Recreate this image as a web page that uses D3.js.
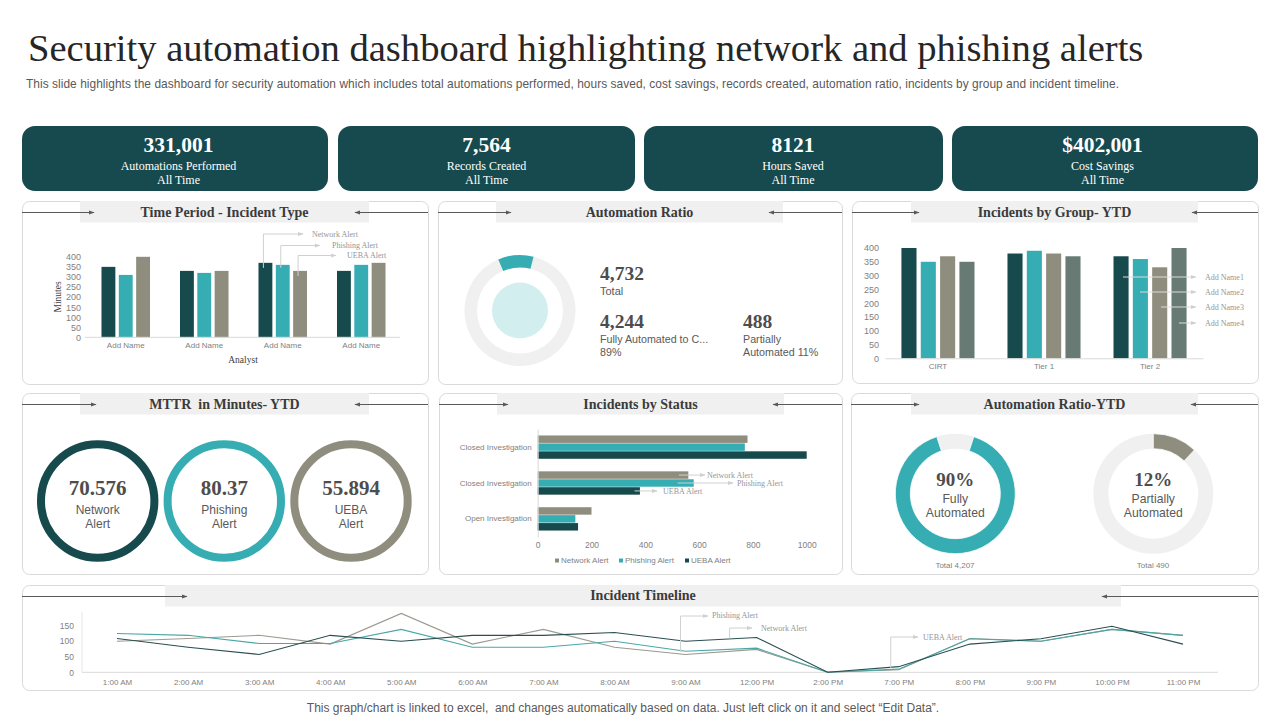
<!DOCTYPE html>
<html><head><meta charset="utf-8">
<script src="https://cdn.jsdelivr.net/npm/d3@7"></script>
<style>html,body{margin:0;padding:0;background:#fff;overflow:hidden}svg{display:block}text{white-space:pre}</style>
</head><body><svg id="c" width="1280" height="720"></svg>
<script>
const kpiValues=["331,001","7,564","8121","$402,001"];
const kpiLabels=["Automations Performed","Records Created","Hours Saved","Cost Savings"];
const analysts=["Add Name A","Add Name B","Add Name C","Add Name D"];
const alertTypes=["Network Alert","Phishing Alert","UEBA Alert"];
const incidentNetwork=[350,330,370,330];
const incidentPhishing=[310,320,360,360];
const incidentUeba=[400,330,330,370];
const groups=["CIRT","Tier 1","Tier 2"];
const groupNames=["Add Name1","Add Name2","Add Name3","Add Name4"];
const groupName1=[400,380,370];
const groupName2=[350,390,360];
const groupName3=[370,380,330];
const groupName4=[350,370,400];
const statusCats=["Closed Investigation","Closed Investigation","Open Investigation"];
const statusNetwork=[780,560,200];
const statusPhishing=[770,580,140];
const statusUeba=[1000,380,150];
const hours=["1:00 AM","2:00 AM","3:00 AM","4:00 AM","5:00 AM","6:00 AM","7:00 AM","8:00 AM","9:00 AM","12:00 PM","2:00 PM","7:00 PM","8:00 PM","9:00 PM","10:00 PM","11:00 PM"];
const timelinePhishing=[124,118,92,92,137,80,80,99,67,77,0,10,107,99,137,118];
const timelineNetwork=[99,108,118,90,188,90,137,80,57,73,0,8,108,99,137,118];
const timelineUeba=[108,80,57,118,99,118,118,127,99,111,0,18,90,107,147,90];
const mttrValues=["70.576","80.37","55.894"];
const mttrLabels=[["Network","Alert"],["Phishing","Alert"],["UEBA","Alert"]];
const ratioTotal=4732, ratioFully=4244, ratioPartial=488;
const ytdFully=90, ytdPartial=12;

const DARK="#174a4c",TEAL="#35adb3",GRAY="#8f8e7e",SLATE="#687a74",BAND="#f0f0f0",EDGE="#d9d9d9",TXT="#404040",AXT="#7f7f7f";
const SERIF="'Liberation Serif',serif",SANS="'Liberation Sans',sans-serif";
const svg=d3.select("#c");
const defs=svg.append("defs");
function mk(id,col){defs.append("marker").attr("id",id).attr("viewBox","0 0 10 10").attr("refX",9).attr("refY",5)
 .attr("markerWidth",6).attr("markerHeight",6).attr("markerUnits","userSpaceOnUse").attr("orient","auto")
 .append("path").attr("d","M0,1.5L10,5L0,8.5Z").attr("fill",col);}
mk("ad","#595959");mk("al","#d0d0d0");

function text(g,x,y,s,o={}){
 const dy=(o.f===SERIF&&(o.s||10)>16)?2:1;
 return g.append("text").attr("x",x).attr("y",y+dy).text(s)
 .attr("font-family",o.f||SANS).attr("font-size",o.s||10).attr("font-weight",o.w||"normal")
 .attr("fill",o.c||TXT).attr("text-anchor",o.a||"middle").attr("dominant-baseline",o.b||"middle");}

text(svg,28,50,"Security automation dashboard highlighting network and phishing alerts",{f:SERIF,s:38.6,a:"start",c:"#262626"});
text(svg,26,84,"This slide highlights the dashboard for security automation which includes total automations performed, hours saved, cost savings, records created, automation ratio, incidents by group and incident timeline.",{s:11.9,a:"start",c:"#595959"}).attr("textLength",1093).attr("lengthAdjust","spacing");
text(svg,623,708,"This graph/chart is linked to excel,  and changes automatically based on data. Just left click on it and select “Edit Data”.",{s:12,c:"#595959"});

const kpiBoxes=[[22,328],[338,635],[644,943],[952,1258]];
const kpiCenters=[178.5,486.5,793,1102.5];
kpiBoxes.forEach((b,i)=>{
 svg.append("rect").attr("x",b[0]).attr("y",126).attr("width",b[1]-b[0]).attr("height",65).attr("rx",13).attr("fill","#164a4e");
 const cx=kpiCenters[i];
 text(svg,cx,145,kpiValues[i],{f:SERIF,s:21.5,w:"bold",c:"#fff"});
 text(svg,cx,166,kpiLabels[i],{f:SERIF,s:12,c:"#fff"});
 text(svg,cx,180,"All Time",{f:SERIF,s:12,c:"#fff"});
});

function panel(x0,x1,y0,y1,bx0,bx1,ax0,ax1,title,tdy=0){
 const g=svg.append("g");
 g.append("rect").attr("x",x0+.5).attr("y",y0+.5).attr("width",x1-x0).attr("height",y1-y0).attr("rx",7).attr("fill","#fff").attr("stroke",EDGE);
 g.append("rect").attr("x",bx0).attr("y",y0).attr("width",bx1-bx0).attr("height",21.5).attr("fill",BAND);
 const ym=y0+11;
 g.append("line").attr("x1",x0).attr("x2",ax0).attr("y1",ym+.5).attr("y2",ym+.5).attr("stroke","#595959").attr("marker-end","url(#ad)");
 g.append("line").attr("x1",x1).attr("x2",ax1).attr("y1",ym+.5).attr("y2",ym+.5).attr("stroke","#595959").attr("marker-end","url(#ad)");
 text(g,(bx0+bx1)/2,ym+.5+tdy,title,{f:SERIF,s:14,w:"bold",c:"#3b3b3b"});
 return g;
}
const p1=panel(22,428,201,384,80,369,94,355,"Time Period - Incident Type");
const p2=panel(438,842,201,384,496,783,511,769,"Automation Ratio");
const p3=panel(852,1258,201,383,911,1198,919,1192,"Incidents by Group- YTD");
const p4=panel(22,428,393,574,80,369,96,355,"MTTR  in Minutes- YTD");
const p5=panel(439,842,393,574,497,784,508,773,"Incidents by Status");
const p6=panel(851,1258,393,574,911,1198,919,1191,"Automation Ratio-YTD");
const p7=panel(22,1258,585,690,165,1121,187,1102,"Incident Timeline",-1);

function styleAxis(a,size,col){a.select(".domain").attr("stroke","#d9d9d9");a.selectAll(".tick line").remove();
 a.selectAll("text").attr("font-family",SANS).attr("font-size",size).attr("fill",col||AXT);}
function callout(g,pts,label,tx,ty,col){
 g.append("path").attr("d",d3.line()(pts)).attr("fill","none").attr("stroke",col||"#d0d0d0").attr("stroke-width",1).attr("marker-end","url(#al)");
 text(g,tx,ty,label,{f:SERIF,s:8,a:"start",c:"#969696"});
}

// Chart 1
{
 const g=p1,x=d3.scaleBand().domain(analysts).range([86.5,400.5]).paddingInner(.382).paddingOuter(.191);
 const y=d3.scaleLinear().domain([0,400]).range([337.3,256.8]);
 const s=[incidentNetwork,incidentPhishing,incidentUeba],cols=[DARK,TEAL,GRAY];
 const ix=d3.scaleBand().domain([0,1,2]).range([0,x.bandwidth()]).paddingInner(.2);
 analysts.forEach((a,i)=>s.forEach((v,k)=>{g.append("rect").attr("x",x(a)+ix(k)).attr("width",ix.bandwidth()).attr("y",y(v[i])).attr("height",y(0)-y(v[i])).attr("fill",cols[k]);}));
 const ax=g.append("g").attr("transform","translate(0,337.3)").call(d3.axisBottom(x).tickSize(0).tickPadding(5.5).tickFormat(()=>"Add Name"));styleAxis(ax,8);
 ax.select(".domain").attr("d","M85,0H400");
 const ay=g.append("g").attr("transform","translate(85,0)").call(d3.axisLeft(y).ticks(8).tickSize(0).tickPadding(4));styleAxis(ay,9);
 ay.select(".domain").remove();
 text(g,243,360,"Analyst",{f:SERIF,s:9.5,c:"#404040"});
 text(g,0,0,"Minutes",{f:SERIF,s:9.5,c:"#404040"}).attr("transform","translate(58,297) rotate(-90)");
 const a2=analysts[2],bx=k=>x(a2)+ix(k)+ix.bandwidth()/2;
 callout(g,[[bx(0)-2,y(345)],[bx(0)-2,234],[303,234]],alertTypes[0],312,234);
 callout(g,[[bx(1)-2,y(345)],[bx(1)-2,245.5],[320,245.5]],alertTypes[1],332,245);
 callout(g,[[bx(2)-2,y(305)],[bx(2)-2,255.5],[336,255.5]],alertTypes[2],347,255);
}
// Automation ratio donut
{
 const g=p2.append("g").attr("transform","translate(520,310.5)");
 g.append("path").attr("d",d3.arc()({innerRadius:43,outerRadius:55.5,startAngle:0,endAngle:2*Math.PI})).attr("fill",BAND);
 g.append("circle").attr("r",28).attr("fill","#d3eeef");
 const partialFrac=ratioPartial/ratioTotal;
 const start=-23*Math.PI/180;
 g.append("path").attr("d",d3.arc()({innerRadius:43,outerRadius:55.5,startAngle:start,endAngle:start+partialFrac*2*Math.PI})).attr("fill",TEAL);
 const f=d3.format(",");
 text(p2,600,274,f(ratioTotal),{f:SERIF,s:19.5,w:"bold",a:"start",c:"#4d4d4d"});
 text(p2,600,291.5,"Total",{s:11,a:"start",c:"#595959"});
 text(p2,600,322,f(ratioFully),{f:SERIF,s:19.5,w:"bold",a:"start",c:"#4d4d4d"});
 text(p2,600,339,"Fully Automated to C...",{s:10.7,a:"start",c:"#595959"});
 text(p2,600,352,"89%",{s:10.7,a:"start",c:"#595959"});
 text(p2,743,322,f(ratioPartial),{f:SERIF,s:19.5,w:"bold",a:"start",c:"#4d4d4d"});
 text(p2,743,339,"Partially",{s:10.7,a:"start",c:"#595959"});
 text(p2,743,352,"Automated 11%",{s:10.7,a:"start",c:"#595959"});
}
// Chart 3
{
 const g=p3,x=d3.scaleBand().domain(groups).range([885,1203]).paddingInner(.311).paddingOuter(.155);
 const y=d3.scaleLinear().domain([0,400]).range([358.3,248]);
 const s=[groupName1,groupName2,groupName3,groupName4],cols=[DARK,TEAL,GRAY,SLATE];
 const ix=d3.scaleBand().domain([0,1,2,3]).range([0,x.bandwidth()]).paddingInner(.22);
 groups.forEach((a,i)=>s.forEach((v,k)=>{g.append("rect").attr("x",x(a)+ix(k)).attr("width",ix.bandwidth()).attr("y",y(v[i])).attr("height",y(0)-y(v[i])).attr("fill",cols[k]);}));
 const ax=g.append("g").attr("transform","translate(0,358.3)").call(d3.axisBottom(x).tickSize(0).tickPadding(5.5));styleAxis(ax,8);
 const ay=g.append("g").attr("transform","translate(883,0)").call(d3.axisLeft(y).ticks(8).tickSize(0).tickPadding(4));styleAxis(ay,9);
 ay.select(".domain").remove();
 const ys=[277,292,307,323],starts=[1123,1140,1161,1179];
 groupNames.forEach((n,i)=>{
  g.append("line").attr("x1",starts[i]).attr("x2",1196).attr("y1",ys[i]).attr("y2",ys[i]).attr("stroke","#dcdcdc").attr("marker-end","url(#al)");
  text(g,1205,ys[i],n,{f:SERIF,s:8,a:"start",c:"#969696"});
 });
}
// MTTR
{
 const cx=[97.7,224.3,351],cols=[DARK,TEAL,GRAY];
 cx.forEach((c,i)=>{
  p4.append("circle").attr("cx",c).attr("cy",501).attr("r",56.7).attr("fill","none").attr("stroke",cols[i]).attr("stroke-width",8);
  text(p4,c,488,mttrValues[i],{f:SERIF,s:21,w:"bold",c:"#4d4d4d"});
  text(p4,c,509.5,mttrLabels[i][0],{s:12,c:"#595959"});
  text(p4,c,523.5,mttrLabels[i][1],{s:12,c:"#595959"});
 });
}
// Status
{
 const g=p5,x=d3.scaleLinear().domain([0,1000]).range([537.7,806.7]);
 const idx=statusCats.map((d,i)=>i);
 const y=d3.scaleBand().domain(idx).range([429,537]).paddingInner(.35).paddingOuter(.18);
 const s=[statusNetwork,statusPhishing,statusUeba],cols=[GRAY,TEAL,DARK];
 const iy=d3.scaleBand().domain([0,1,2]).range([0,y.bandwidth()]).paddingInner(.06);
 idx.forEach(i=>s.forEach((v,k)=>{g.append("rect").attr("x",x(0)).attr("y",y(i)+iy(k)).attr("height",iy.bandwidth()).attr("width",x(v[i])-x(0)).attr("fill",cols[k]);}));
 const ax=g.append("g").attr("transform","translate(0,539)").call(d3.axisBottom(x).ticks(5).tickFormat(d3.format("d")).tickSize(0).tickPadding(3));styleAxis(ax,8.5);ax.select(".domain").remove();
 const ay=g.append("g").attr("transform","translate(537.7,0)").call(d3.axisLeft(y).tickSize(0).tickPadding(6).tickFormat(i=>statusCats[i]));styleAxis(ay,8);
 const my=k=>y(1)+iy(k)+iy.bandwidth()/2;
 callout(g,[[x(525),my(0)],[705,my(0)]],alertTypes[0],707,475.5);
 callout(g,[[x(520),my(1)],[733,my(1)]],alertTypes[1],737,483);
 callout(g,[[x(360),my(2)],[657,my(2)]],alertTypes[2],663,491);
 const lx=[555,619,685];
 alertTypes.forEach((t,i)=>{
  g.append("rect").attr("x",lx[i]).attr("y",558.5).attr("width",4).attr("height",4).attr("fill",cols[i]);
  text(g,lx[i]+6,560,t,{s:8,a:"start",c:AXT});
 });
}
// YTD donuts
{
 const arc=d3.arc().innerRadius(45).outerRadius(60);
 const draw=(cx,cy,pct,col,sa)=>{
  const g=p6.append("g").attr("transform",`translate(${cx},${cy})`);
  g.append("path").attr("d",arc({startAngle:0,endAngle:2*Math.PI})).attr("fill",BAND);
  g.append("path").attr("d",arc({startAngle:sa,endAngle:sa+pct/100*2*Math.PI})).attr("fill",col).attr("stroke","#fff").attr("stroke-width",.8);
 };
 draw(955.3,493.7,ytdFully,TEAL,18*Math.PI/180);
 draw(1153.3,493.7,ytdPartial,GRAY,0);
 text(p6,955.3,480,ytdFully+"%",{f:SERIF,s:19,w:"bold",c:"#4d4d4d"});
 text(p6,955.3,498.5,"Fully",{s:12.2,c:"#595959"});
 text(p6,955.3,512.5,"Automated",{s:12.2,c:"#595959"});
 text(p6,1153.3,480,ytdPartial+"%",{f:SERIF,s:19,w:"bold",c:"#4d4d4d"});
 text(p6,1153.3,498.5,"Partially",{s:12.2,c:"#595959"});
 text(p6,1153.3,512.5,"Automated",{s:12.2,c:"#595959"});
 text(p6,955,564.5,"Total 4,207",{s:8,c:AXT});
 text(p6,1153,564.5,"Total 490",{s:8,c:AXT});
}
// Timeline
{
 const g=p7,x=d3.scalePoint().domain(hours).range([117,1183]);
 const y=d3.scaleLinear().domain([0,150]).range([672.3,625.3]);
 const ax=g.append("g").attr("transform","translate(0,672.3)").call(d3.axisBottom(x).tickSize(0).tickPadding(7));styleAxis(ax,8);
 ax.select(".domain").attr("d","M82,0H1218");
 const ay=g.append("g").attr("transform","translate(82,0)").call(d3.axisLeft(y).tickValues([0,50,100,150]).tickSize(0).tickPadding(8));styleAxis(ay,8.5);
 ay.select(".domain").remove();
 g.append("line").attr("x1",82).attr("x2",82).attr("y1",612).attr("y2",672).attr("stroke","#e6e6e6");
 const line=d3.line().x((d,i)=>x(hours[i])).y(d=>y(d));
 [[timelineNetwork,"#9a9a90"],[timelinePhishing,"#4aa7a8"],[timelineUeba,"#2b4f50"]].forEach(([v,c])=>{
  g.append("path").attr("d",line(v)).attr("fill","none").attr("stroke",c).attr("stroke-width",1.1);
 });
 const nine=x("9:00 AM"),noon=x("12:00 PM"),seven=x("7:00 PM");
 callout(g,[[nine-5,y(65)],[nine-5,616],[708,616]],alertTypes[1],712,615.5);
 callout(g,[[noon-27,y(108)],[noon-27,628],[752,628]],alertTypes[0],761,628);
 callout(g,[[seven-8,y(14)],[seven-8,637],[918,637]],alertTypes[2],923,637);
}
</script></body></html>
